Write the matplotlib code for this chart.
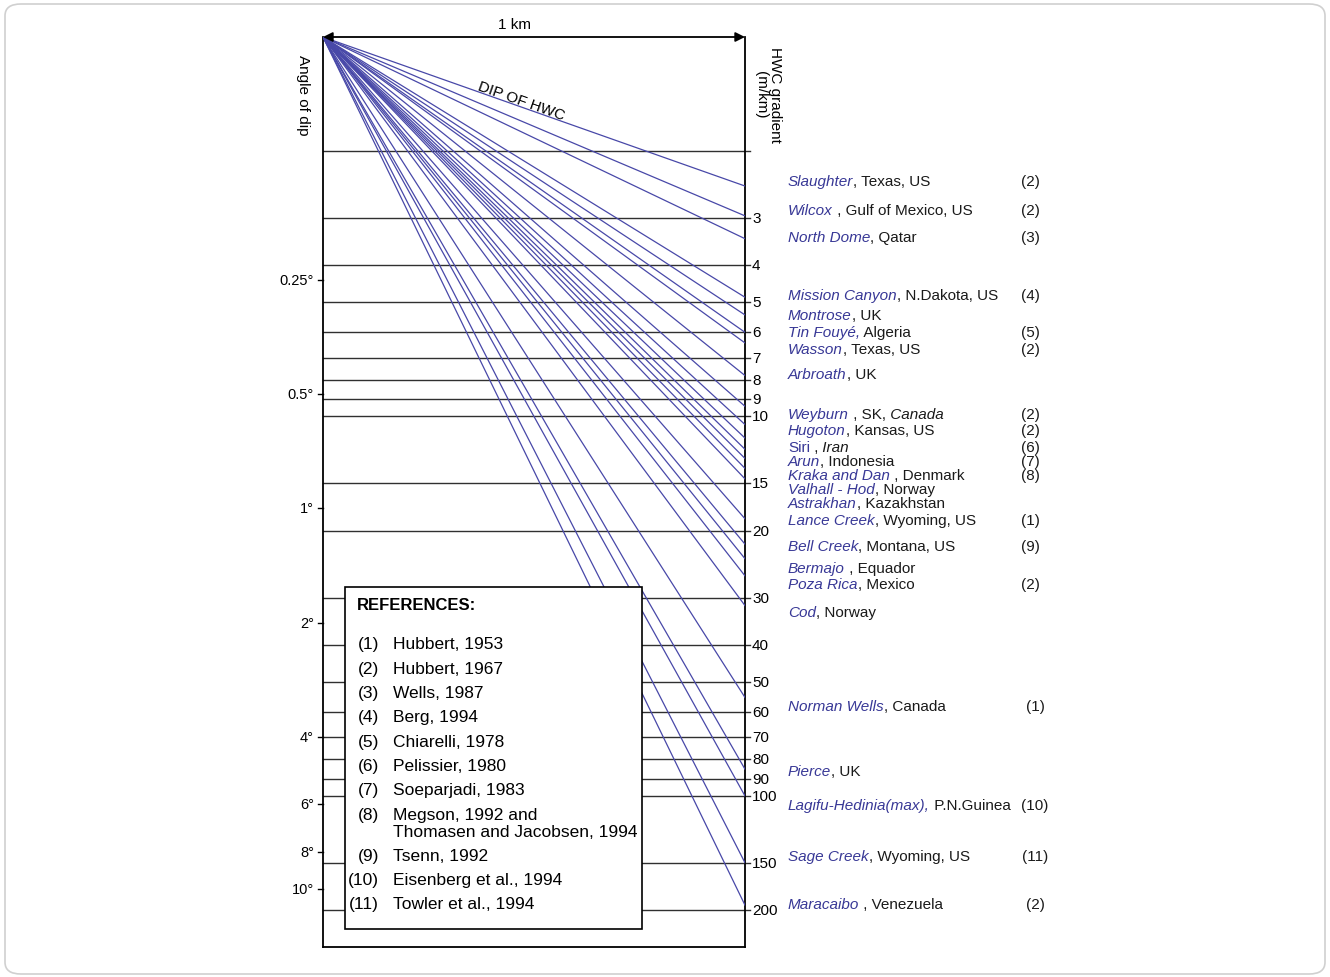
import matplotlib.pyplot as plt
import matplotlib.transforms as mtransforms
import numpy as np
from matplotlib.patches import FancyArrowPatch, FancyBboxPatch, Rectangle

W, H = 1330, 978

# gradient scale (m/km) along the right-hand edge
GRID_GRADIENTS = [2, 3, 4, 5, 6, 7, 8, 9, 10, 15, 20, 30, 40, 50, 60, 70, 80, 90, 100, 150, 200]
GRADIENT_LABELS = ["", "3", "4", "5", "6", "7", "8", "9", "10", "15", "20", "30",
                   "40", "50", "60", "70", "80", "90", "100", "150", "200"]

# dip angle scale on the left edge
DIP_ANGLES = [0.25, 0.5, 1, 2, 4, 6, 8, 10]
DIP_LABELS = ["0.25°", "0.5°", "1°", "2°", "4°", "6°", "8°", "10°"]

# fields: label pieces ("n" italic blue name, "b" upright blue, "t" plain, "i" italic)
FIELD_LABELS = [
    [("Slaughter", "n"), (", Texas, US", "t")],
    [("Wilcox", "n"), (" , Gulf of Mexico, US", "t")],
    [("North Dome", "n"), (", Qatar", "t")],
    [("Mission Canyon", "n"), (", N.Dakota, US", "t")],
    [("Montrose", "n"), (", UK", "t")],
    [("Tin Fouyé,", "n"), (" Algeria", "t")],
    [("Wasson", "n"), (", Texas, US", "t")],
    [("Arbroath", "n"), (", UK", "t")],
    [("Weyburn", "n"), (" , SK,", "t"), (" Canada", "i")],
    [("Hugoton", "n"), (", Kansas, US", "t")],
    [("Siri", "b"), (" ,", "t"), (" Iran", "i")],
    [("Arun", "n"), (", Indonesia", "t")],
    [("Kraka and Dan", "n"), (" , Denmark", "t")],
    [("Valhall - Hod", "n"), (", Norway", "t")],
    [("Astrakhan", "n"), (", Kazakhstan", "t")],
    [("Lance Creek", "n"), (", Wyoming, US", "t")],
    [("Bell Creek", "n"), (", Montana, US", "t")],
    [("Bermajo", "n"), (" , Equador", "t")],
    [("Poza Rica", "n"), (", Mexico", "t")],
    [("Cod", "n"), (", Norway", "t")],
    [("Norman Wells", "n"), (", Canada", "t")],
    [("Pierce", "n"), (", UK", "t")],
    [("Lagifu-Hedinia(max),", "n"), (" P.N.Guinea", "t")],
    [("Sage Creek", "n"), (", Wyoming, US", "t")],
    [("Maracaibo", "n"), (" , Venezuela", "t")],
]
FIELD_GRADIENT = [2.47, 2.96, 3.4, 4.85, 5.4, 6.0, 6.4, 7.8, 9.4, 10.5, 11.4, 12.2,
                  12.9, 13.7, 14.6, 18.6, 21.7, 23.7, 26.3, 31.5, 55, 85, 100, 150, 194]
FIELD_LABEL_AT = [2.39, 2.85, 3.36, 4.78, 5.40, 5.98, 6.63, 7.72, 9.83, 10.83, 12.0, 13.07,
                  14.23, 15.49, 16.87, 18.7, 22.0, 25.0, 27.7, 32.7, 58.1, 86.1, 105.9, 144.2, 192.9]
FIELD_REFS = ["(2)", "(2)", "(3)", "(4)", "", "(5)", "(2)", "", "(2)", "(2)", "(6)", "(7)",
              "(8)", "", "", "(1)", "(9)", "", "(2)", "", "(1)", "", "(10)", "(11)", "(2)"]

REF_NUMS = ["(1)", "(2)", "(3)", "(4)", "(5)", "(6)", "(7)", "(8)", "(9)", "(10)", "(11)"]
REF_TEXTS = ["Hubbert, 1953", "Hubbert, 1967", "Wells, 1987", "Berg, 1994",
             "Chiarelli, 1978", "Pelissier, 1980", "Soeparjadi, 1983",
             "Megson, 1992 and\nThomasen and Jacobsen, 1994", "Tsenn, 1992",
             "Eisenberg et al., 1994", "Towler et al., 1994"]

LINE_BLUE = "#4848a8"
NAME_BLUE = "#383896"

plt.rcParams["font.family"] = ["Liberation Sans", "DejaVu Sans"]


def fx(px):
    return px / W


def fy(py):
    return 1 - py / H


fig = plt.figure(figsize=(W / 100, H / 100), dpi=100)
ax = fig.add_axes([fx(323), fy(948), (745 - 323) / W, (948 - 38) / H])
ax.set_yscale("log")
ax.set_ylim(250, 1)
ax.set_xlim(0, 1)
ax.set_xticks([])
ax.set_yticks([])
ax.minorticks_off()
ax.spines["top"].set_visible(False)
for s in ["left", "right", "bottom"]:
    ax.spines[s].set_linewidth(1.3)

# horizontal grid of gradient values, with small ticks past the right edge
for g in GRID_GRADIENTS:
    ax.plot([0, 1.012], [g, g], color="#303030", lw=1.0, zorder=2, clip_on=False)

# fan of HWC dips from the apex
for g in FIELD_GRADIENT:
    ax.plot([0, 1], [1, g], color=LINE_BLUE, lw=0.9, zorder=3)

# 1 km arrow
arrow = FancyArrowPatch((0, 1), (1, 1), arrowstyle="<|-|>", mutation_scale=14,
                        color="black", lw=1.3, shrinkA=0, shrinkB=0, clip_on=False, zorder=4)
ax.add_patch(arrow)
fig.text(fx(515), fy(25), "1 km", ha="center", va="center", fontsize=11)

ax.text(0.47, 0.93, "DIP OF HWC", transform=ax.transAxes, rotation=-19.5,
        ha="center", va="center", fontsize=11, rotation_mode="anchor")

fig.text(fx(303), fy(95), "Angle of dip", rotation=270, ha="center", va="center", fontsize=11)
fig.text(fx(768), fy(95), "HWC gradient\n(m/km)", rotation=270, ha="center", va="center",
         fontsize=11, linespacing=1.0)

trans = mtransforms.blended_transform_factory(fig.transFigure, ax.transData)

# right gradient labels
for g, lab in zip(GRID_GRADIENTS, GRADIENT_LABELS):
    if lab:
        ax.text(fx(752), g, lab, transform=trans, ha="left", va="center", fontsize=11, clip_on=False)

# left dip angle ticks
for ang, lab in zip(DIP_ANGLES, DIP_LABELS):
    g = 1000 * np.tan(np.radians(ang))
    ax.plot([-0.012, 0], [g, g], color="black", lw=1.0, clip_on=False)
    ax.text(fx(314), g, lab, transform=trans, ha="right", va="center", fontsize=10.5, clip_on=False)

# field labels
renderer = fig.canvas.get_renderer()
styles = {
    "n": dict(color=NAME_BLUE, style="italic"),
    "b": dict(color=NAME_BLUE, style="normal"),
    "t": dict(color="#1a1a1a", style="normal"),
    "i": dict(color="#1a1a1a", style="italic"),
}
for i, (parts, g, ref) in enumerate(zip(FIELD_LABELS, FIELD_LABEL_AT, FIELD_REFS)):
    x = fx(788)
    for txt, st in parts:
        t = ax.text(x, g, txt, transform=trans, ha="left", va="center", fontsize=11,
                    clip_on=False, **styles[st])
        bb = t.get_window_extent(renderer)
        x = bb.x1 / fig.bbox.width
    if ref:
        cx = fx(1030) if i < 20 else fx(1035)
        ax.text(cx, g, ref, transform=trans, ha="center", va="center", fontsize=11,
                color="#1a1a1a", clip_on=False)

# references box
box = Rectangle((fx(345), fy(930)), (642 - 345) / W, (930 - 588) / H, transform=fig.transFigure,
                facecolor="white", edgecolor="black", lw=1.2, zorder=6, clip_on=False)
ax.add_patch(box)
ax.text(fx(357), fy(606), "REFERENCES:", transform=fig.transFigure, ha="left", va="center",
        fontsize=12, fontweight="bold", zorder=7, clip_on=False)
y = 645
for num, txt in zip(REF_NUMS, REF_TEXTS):
    ax.text(fx(379), fy(y), num, transform=fig.transFigure, ha="right", va="center",
            fontsize=12.5, zorder=7, clip_on=False)
    lines = txt.split("\n")
    for k, line in enumerate(lines):
        ax.text(fx(393), fy(y + 17 * k), line, transform=fig.transFigure, ha="left", va="center",
                fontsize=12.5, zorder=7, clip_on=False)
    y += 24.3 + 17 * (len(lines) - 1)

# outer rounded frame
frame = FancyBboxPatch((fx(5), fy(975)), 1320 / W, 970 / H, boxstyle="round,pad=0,rounding_size=0.012",
                       transform=fig.transFigure, facecolor="none", edgecolor="#d0d0d0", lw=1.2)
fig.add_artist(frame)

fig.savefig("out.png", dpi=100)
